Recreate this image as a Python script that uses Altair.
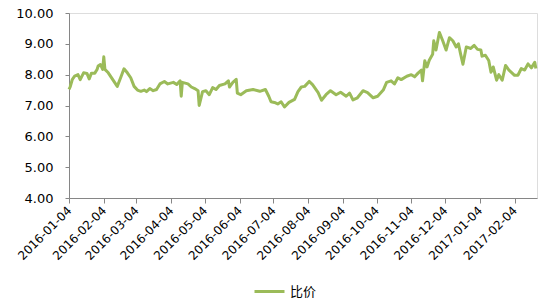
import altair as alt
import pandas as pd

dates = [
    "2016-01-04", "2016-01-05", "2016-01-07", "2016-01-09", "2016-01-12", "2016-01-14", "2016-01-17",
    "2016-01-20", "2016-01-22", "2016-01-24", "2016-01-27", "2016-01-29", "2016-01-30",
    "2016-02-01", "2016-02-03", "2016-02-04", "2016-02-05", "2016-02-08", "2016-02-12", "2016-02-16",
    "2016-02-19", "2016-02-22", "2016-02-25", "2016-02-28",
    "2016-03-02", "2016-03-05", "2016-03-08", "2016-03-11", "2016-03-13", "2016-03-16", "2016-03-19",
    "2016-03-22", "2016-03-25", "2016-03-29",
    "2016-04-01", "2016-04-06", "2016-04-09", "2016-04-12", "2016-04-13", "2016-04-14", "2016-04-19",
    "2016-04-22", "2016-04-25", "2016-04-28", "2016-04-29",
    "2016-05-02", "2016-05-05", "2016-05-08", "2016-05-11", "2016-05-14", "2016-05-17", "2016-05-22",
    "2016-05-25", "2016-05-26", "2016-05-29",
    "2016-06-01", "2016-06-02", "2016-06-05", "2016-06-10", "2016-06-16", "2016-06-22", "2016-06-27",
    "2016-06-30",
    "2016-07-02", "2016-07-05", "2016-07-08", "2016-07-11", "2016-07-14", "2016-07-18", "2016-07-23",
    "2016-07-26", "2016-07-29",
    "2016-08-01", "2016-08-05", "2016-08-08", "2016-08-13", "2016-08-16", "2016-08-20", "2016-08-24",
    "2016-08-29",
    "2016-09-02", "2016-09-07", "2016-09-10", "2016-09-13", "2016-09-17", "2016-09-22", "2016-09-26",
    "2016-10-01", "2016-10-05", "2016-10-10", "2016-10-13", "2016-10-17", "2016-10-20", "2016-10-23",
    "2016-10-26", "2016-10-31",
    "2016-11-04", "2016-11-07", "2016-11-10", "2016-11-13", "2016-11-14", "2016-11-16", "2016-11-18",
    "2016-11-20", "2016-11-23", "2016-11-24", "2016-11-26", "2016-11-29",
    "2016-12-02", "2016-12-05", "2016-12-08", "2016-12-11", "2016-12-14", "2016-12-16", "2016-12-18",
    "2016-12-20", "2016-12-23", "2016-12-27", "2016-12-30",
    "2017-01-02", "2017-01-05", "2017-01-06", "2017-01-09", "2017-01-12", "2017-01-14", "2017-01-16",
    "2017-01-19", "2017-01-21", "2017-01-24", "2017-01-27", "2017-01-30",
    "2017-02-04", "2017-02-07", "2017-02-10", "2017-02-13", "2017-02-16", "2017-02-19", "2017-02-22",
    "2017-02-23",
]

ratio = [
    7.52, 7.60, 7.85, 7.95, 8.00, 7.84, 8.06,
    8.04, 7.86, 8.05, 8.05, 8.17, 8.28,
    8.33, 8.17, 8.58, 8.17, 8.06, 7.84, 7.62,
    7.90, 8.19, 8.06, 7.90,
    7.62, 7.50, 7.46, 7.50, 7.45, 7.55, 7.48,
    7.52, 7.70, 7.78,
    7.70, 7.75, 7.68, 7.80, 7.30, 7.75, 7.70,
    7.60, 7.55, 7.48, 7.00,
    7.45, 7.48, 7.35, 7.58, 7.52, 7.65, 7.70,
    7.80, 7.60, 7.75,
    7.85, 7.40, 7.35, 7.48, 7.52, 7.46, 7.52,
    7.30,
    7.12, 7.10, 7.05, 7.12, 6.95, 7.10, 7.20,
    7.45, 7.60,
    7.62, 7.78, 7.68, 7.42, 7.17, 7.35, 7.48,
    7.35,
    7.43, 7.30, 7.40, 7.18, 7.25, 7.48, 7.42,
    7.25, 7.30, 7.50, 7.75, 7.80, 7.70, 7.90,
    7.84, 7.95,
    8.00, 7.93, 8.05, 8.15, 7.80, 8.45, 8.25,
    8.47, 8.66, 9.10, 8.80, 9.37,
    9.10, 8.80, 9.20, 9.10, 8.90, 9.00, 8.66,
    8.34, 8.90, 8.85, 8.95,
    8.82, 8.80, 8.60, 8.63, 8.46, 8.08, 8.25,
    7.82, 8.00, 7.82, 8.30, 8.15,
    7.98, 7.98, 8.20, 8.15, 8.35, 8.22, 8.40,
    8.20,
]

tick_dates = [(2016, m) for m in range(1, 13)] + [(2017, 1), (2017, 2)]
y_ticks = [4, 5, 6, 7, 8, 9, 10]
series_name = "比价"

df = pd.DataFrame({"date": dates, "value": ratio, "series": series_name})

green = "#9BBB59"
axis_gray = "#868686"

x_axis = alt.Axis(
    values=[alt.DateTime(year=y, month=m, date=4, utc=True) for y, m in tick_dates],
    labelExpr="utcFormat(datum.value, '%Y-%m-%d')",
    labelAngle=-45,
    labelAlign="right",
    labelBaseline="middle",
    labelFont="DejaVu Sans",
    labelFontSize=12,
    labelColor="#000000",
    labelPadding=5,
    labelOverlap=False,
    domainColor=axis_gray,
    tickColor=axis_gray,
    tickSize=5,
    grid=False,
    title=None,
)

y_axis = alt.Axis(
    values=y_ticks,
    format=".2f",
    labelFont="DejaVu Sans",
    labelFontSize=13,
    labelColor="#000000",
    labelPadding=12,
    domainColor=axis_gray,
    tickColor=axis_gray,
    tickSize=4,
    grid=False,
    title=None,
)

chart = (
    alt.Chart(df)
    .mark_line(strokeWidth=3, strokeJoin="round")
    .encode(
        x=alt.X(
            "date:T",
            scale=alt.Scale(
                type="utc",
                domain=[
                    alt.DateTime(year=2016, month=1, date=4, utc=True),
                    alt.DateTime(year=2017, month=2, date=24, utc=True),
                ],
                nice=False,
            ),
            axis=x_axis,
        ),
        y=alt.Y("value:Q", scale=alt.Scale(domain=[4, 10], nice=False, zero=False), axis=y_axis),
        color=alt.Color(
            "series:N",
            scale=alt.Scale(domain=[series_name], range=[green]),
            legend=alt.Legend(
                title=None,
                orient="none",
                legendX=184,
                legendY=262,
                symbolType="stroke",
                symbolSize=900,
                symbolStrokeWidth=3,
                labelFont="Noto Sans CJK SC",
                labelFontSize=13,
                labelColor="#000000",
            ),
        ),
    )
    .properties(
        width=468,
        height=185,
        autosize=alt.AutoSizeParams(type="none"),
        padding={"left": 69, "top": 13, "right": 13, "bottom": 102},
    )
    .configure_view(strokeWidth=0, stroke="transparent")
    .configure(background="#ffffff")
)

chart.save("out.html", embed_options={"renderer": "svg", "actions": False})
